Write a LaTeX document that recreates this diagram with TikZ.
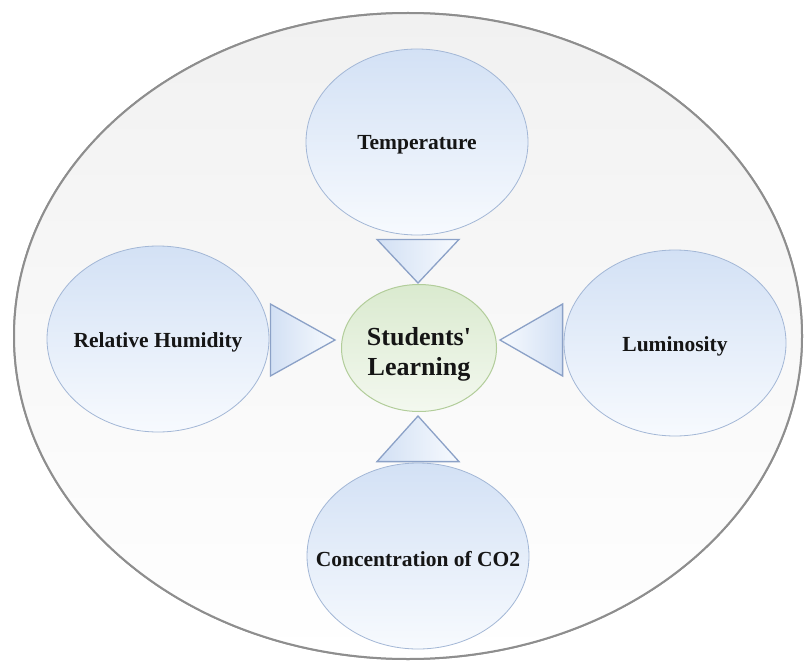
\documentclass[tikz,border=0pt]{standalone}
\usepackage{fontspec}
\setmainfont{Liberation Serif}
% plain family, no TeX ligature mapping, so the apostrophe stays straight
\newfontfamily\labelfont{Liberation Serif}
\usetikzlibrary{shapes.geometric,calc,backgrounds}

\definecolor{rimgray}{HTML}{8E8E8E}
\definecolor{discTop}{HTML}{F1F1F1}
\definecolor{factorTop}{HTML}{D3E1F5}
\definecolor{factorBottom}{HTML}{F7FAFE}
\definecolor{factorEdge}{HTML}{A3B7D6}
\definecolor{factorRim}{HTML}{7F97BF}
\definecolor{coreTop}{HTML}{DAEACF}
\definecolor{coreBottom}{HTML}{F3F8EF}
\definecolor{coreEdge}{HTML}{B2CD9A}
\definecolor{wedgeEdge}{HTML}{8BA1C7}
\definecolor{wedgeFill}{HTML}{D2E0F4}
\definecolor{inkText}{HTML}{151515}

% zero-width label box, slightly lowered, so the text never widens its ellipse
\newcommand{\zwlabel}[2][3pt]{\makebox[0pt]{\raisebox{-#1}[\height][\depth]{#2}}}

\tikzset{
  field/.style={ellipse, draw=rimgray, line width=2pt,
    top color=discTop, bottom color=white, inner sep=0pt,
    minimum width=788pt, minimum height=646pt},
  factor/.style={ellipse, draw=factorEdge, line width=0.8pt,
    top color=factorTop, bottom color=factorBottom, inner sep=0pt,
    minimum width=222pt, minimum height=186pt,
    font=\labelfont\fontsize{21.5}{26}\selectfont\bfseries, text=inkText},
  core/.style={ellipse, draw=coreEdge, line width=1pt,
    top color=coreTop, bottom color=coreBottom, inner sep=0pt,
    minimum width=155pt, minimum height=127pt, align=center,
    font=\labelfont\fontsize{26}{30}\selectfont\bfseries, text=inkText},
  factorrim/.style={draw=factorRim, line width=1.1pt, opacity=0.55},
  wedge/.style={draw=wedgeEdge, line width=1.3pt, line join=miter,
    left color=wedgeFill, right color=factorBottom},
}

\begin{document}
\begin{tikzpicture}[x=1pt, y=-1pt]
  \useasboundingbox (0,0) rectangle (810,663);

  % outer disc holding the whole model
  \node[field] (env) at (408,336) {};

  % the four influencing factors
  \node[factor] (temp)  at (417,142) {\zwlabel{Temperature}};
  \node[factor] (humid) at (158,339) {\zwlabel{Relative Humidity}};
  \node[factor] (lumin) at (675,343) {\zwlabel{Luminosity}};
  \node[factor] (co2)   at (418,556) {\zwlabel{Concentration of CO2}};

  % central outcome
  \node[core] (learn) at (419,348)
    {\zwlabel[6pt]{Students'}\\\zwlabel[6pt]{Learning}};

  % thin darker rims along the lower edges of the factor ellipses
  \begin{scope}[on background layer]
    \node[field] at (env.center) {};
    \foreach \f in {temp,humid,lumin,co2}
      \draw[factorrim] ($(\f.center)+(1.5,1.5)$)
        ellipse [x radius=111pt, y radius=93pt];
  \end{scope}

  % wedge-shaped pointers from each factor towards the centre
  \draw[wedge] ($(temp.south)+(-40,4)$) -- ($(temp.south)+(42,4)$)
    -- ($(learn.center)+(-1,-65)$) -- cycle;
  \draw[wedge] ($(co2.north)+(-41,-1)$) -- ($(co2.north)+(41,-1)$)
    -- ($(learn.center)+(-1,68)$) -- cycle;
  \draw[wedge] ($(humid.east)+(1,-35)$) -- ($(learn.center)+(-84,-8)$)
    -- ($(humid.east)+(1,37)$) -- cycle;
  \draw[wedge, left color=factorBottom, right color=wedgeFill]
    ($(lumin.west)+(-1,-39)$) -- ($(learn.center)+(81,-8)$)
    -- ($(lumin.west)+(-1,33)$) -- cycle;
\end{tikzpicture}
\end{document}
